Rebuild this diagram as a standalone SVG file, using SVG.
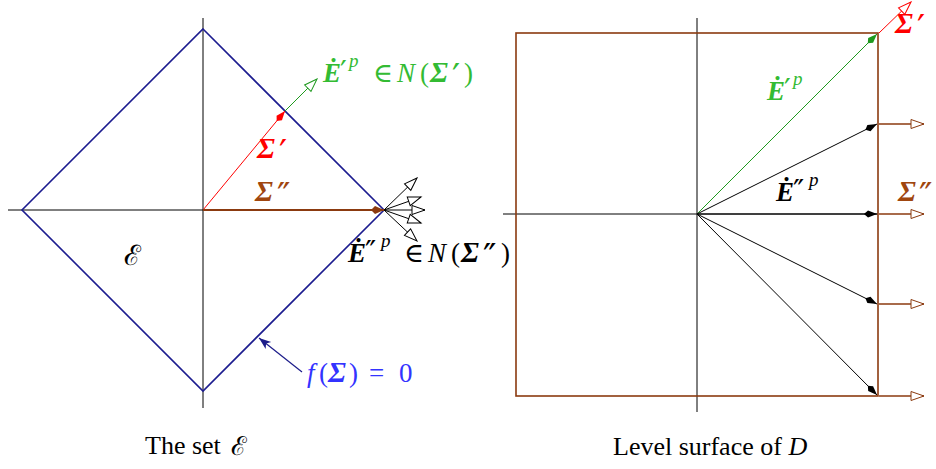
<svg xmlns="http://www.w3.org/2000/svg" width="936" height="469" viewBox="0 0 936 469">
<style>
.m{font-family:"Liberation Serif","DejaVu Serif",serif;font-size:27px}
.bi{font-weight:bold;font-style:italic}
.sg{font-weight:bold;font-style:italic;font-size:29px}
.it{font-style:italic}
.sup{font-size:19px}
.pr{font-family:"DejaVu Serif",serif;font-size:36px}
.spr{font-family:"DejaVu Serif",serif;font-size:30px}
.cap{font-family:"Liberation Serif","DejaVu Serif",serif;font-size:26px;fill:#000}
.ax{stroke:#000;stroke-width:1;fill:none}
.thin{fill:none;stroke-width:1}
</style>
<defs>
<marker id="kRed" viewBox="-15 -6 17 12" markerWidth="17" markerHeight="12" refX="0" refY="0" orient="auto" markerUnits="userSpaceOnUse"><path d="M0,0 L-9,-3.5 L-13,0 L-9,3.5 Z" fill="#ff0000"/></marker>
<marker id="kBrown" viewBox="-15 -6 17 12" markerWidth="17" markerHeight="12" refX="0" refY="0" orient="auto" markerUnits="userSpaceOnUse"><path d="M0,0 L-9,-4 L-13,0 L-9,4 Z" fill="#8b3a0f"/></marker>
<marker id="kGreen" viewBox="-15 -6 17 12" markerWidth="17" markerHeight="12" refX="0" refY="0" orient="auto" markerUnits="userSpaceOnUse"><path d="M0,0 L-9,-3.5 L-13,0 L-9,3.5 Z" fill="#1f9a1f"/></marker>
<marker id="kBlack" viewBox="-15 -6 17 12" markerWidth="17" markerHeight="12" refX="0" refY="0" orient="auto" markerUnits="userSpaceOnUse"><path d="M0,0 L-9,-3.5 L-13,0 L-9,3.5 Z" fill="#000"/></marker>
<marker id="kNavy" viewBox="-15 -6 17 12" markerWidth="17" markerHeight="12" refX="0" refY="0" orient="auto" markerUnits="userSpaceOnUse"><path d="M0,0 L-12,-4.5 L-9,0 L-12,4.5 Z" fill="#1c1c8a"/></marker>
<marker id="oGreen" viewBox="-16 -7 18 14" markerWidth="18" markerHeight="14" refX="0" refY="0" orient="auto" markerUnits="userSpaceOnUse"><path d="M0,0 L-13,-4.5 L-13,4.5 Z" fill="#fff" stroke="#1f9a1f" stroke-width="1"/></marker>
<marker id="oBlack" viewBox="-16 -7 18 14" markerWidth="18" markerHeight="14" refX="0" refY="0" orient="auto" markerUnits="userSpaceOnUse"><path d="M0,0 L-13,-4.5 L-13,4.5 Z" fill="#fff" stroke="#000" stroke-width="1"/></marker>
<marker id="oRed" viewBox="-16 -7 18 14" markerWidth="18" markerHeight="14" refX="0" refY="0" orient="auto" markerUnits="userSpaceOnUse"><path d="M0,0 L-13,-4.5 L-13,4.5 Z" fill="#fff" stroke="#ff0000" stroke-width="1"/></marker>
<marker id="oBrown" viewBox="-16 -7 18 14" markerWidth="18" markerHeight="14" refX="0" refY="0" orient="auto" markerUnits="userSpaceOnUse"><path d="M0,0 L-13,-4.5 L-13,4.5 Z" fill="#fff" stroke="#8b3a0f" stroke-width="1"/></marker>
</defs>
<rect width="936" height="469" fill="#fff"/>

<g id="left-axes">
<line class="ax" x1="8" y1="210" x2="384" y2="210"/>
<line class="ax" x1="203" y1="18" x2="203" y2="408"/>
</g>
<g id="diamond">
<path d="M203,29 L384,210 L203,391 L22,210 Z" fill="none" stroke="#1c1c8f" stroke-width="1.6"/>
</g>

<g id="right-axes">
<line class="ax" x1="503" y1="214" x2="878" y2="214"/>
<line class="ax" x1="697" y1="18" x2="697" y2="412"/>
</g>
<g id="level-surface">
<rect x="516" y="33" width="362" height="363" fill="none" stroke="#8b3a0f" stroke-width="1.6"/>
</g>

<g id="connectors">
<line x1="203" y1="210" x2="285" y2="111" stroke="#ff0000" class="thin" marker-end="url(#kRed)"/>
<line x1="285" y1="111" x2="317" y2="79" stroke="#1f9a1f" class="thin" marker-end="url(#oGreen)"/>
<line x1="203" y1="210" x2="384" y2="210" stroke="#8b3a0f" stroke-width="2.2" fill="none" marker-end="url(#kBrown)"/>
<line x1="384" y1="210" x2="417" y2="178" stroke="#000" class="thin" marker-end="url(#oBlack)"/>
<line x1="384" y1="210" x2="421" y2="197" stroke="#000" class="thin" marker-end="url(#oBlack)"/>
<line x1="384" y1="210" x2="425" y2="210" stroke="#000" class="thin" marker-end="url(#oBlack)"/>
<line x1="384" y1="210" x2="421" y2="223" stroke="#000" class="thin" marker-end="url(#oBlack)"/>
<line x1="384" y1="210" x2="417" y2="241" stroke="#000" class="thin" marker-end="url(#oBlack)"/>
<line x1="302" y1="372" x2="259" y2="338" stroke="#1c1c8a" stroke-width="1.2" fill="none" marker-end="url(#kNavy)"/>

<line x1="697" y1="214" x2="877" y2="34" stroke="#1f9a1f" class="thin" marker-end="url(#kGreen)"/>
<line x1="879" y1="33" x2="911" y2="2" stroke="#ff0000" class="thin" marker-end="url(#oRed)"/>
<line x1="697" y1="214" x2="877" y2="124" stroke="#000" class="thin" marker-end="url(#kBlack)"/>
<line x1="697" y1="214" x2="877" y2="214" stroke="#000" class="thin" marker-end="url(#kBlack)"/>
<line x1="697" y1="214" x2="877" y2="304" stroke="#000" class="thin" marker-end="url(#kBlack)"/>
<line x1="697" y1="214" x2="877" y2="395" stroke="#000" class="thin" marker-end="url(#kBlack)"/>
<line x1="879" y1="124" x2="924" y2="124" stroke="#8b3a0f" stroke-width="1.4" fill="none" marker-end="url(#oBrown)"/>
<line x1="879" y1="214" x2="924" y2="214" stroke="#8b3a0f" stroke-width="1.4" fill="none" marker-end="url(#oBrown)"/>
<line x1="879" y1="304" x2="924" y2="304" stroke="#8b3a0f" stroke-width="1.4" fill="none" marker-end="url(#oBrown)"/>
<line x1="879" y1="396" x2="924" y2="396" stroke="#8b3a0f" stroke-width="1.4" fill="none" marker-end="url(#oBrown)"/>
</g>

<g id="labels">
<text class="m" fill="#33bb33"><tspan class="bi" x="323" y="82">Ė</tspan><tspan class="spr" x="340" y="82">′</tspan><tspan class="sup it" x="349" y="67">p</tspan><tspan x="373" y="82">∈</tspan><tspan class="it" x="397" y="82">N</tspan><tspan x="420" y="82">(</tspan><tspan class="sg" x="430" y="82">Σ</tspan><tspan class="pr" x="452" y="89">′</tspan><tspan x="464" y="82">)</tspan></text>

<text class="m" fill="#ff0000"><tspan class="sg" x="257" y="158">Σ</tspan><tspan class="pr" x="279" y="165">′</tspan></text>
<text class="m" fill="#a0460f"><tspan class="sg" x="255" y="201">Σ</tspan><tspan class="pr" x="277" y="208">″</tspan></text>

<text class="m" fill="#000"><tspan class="bi" x="348" y="262">Ė</tspan><tspan class="spr" x="365" y="262">″</tspan><tspan class="sup it" x="381" y="247">p</tspan><tspan x="404" y="262">∈</tspan><tspan class="it" x="428" y="262">N</tspan><tspan x="451" y="262">(</tspan><tspan class="sg" x="461" y="262">Σ</tspan><tspan class="pr" x="483" y="269">″</tspan><tspan x="501" y="262">)</tspan></text>

<text x="124" y="265" font-family="DejaVu Serif,serif" font-size="28" fill="#000">ℰ</text>

<text class="m" fill="#3333ff"><tspan class="it" x="307" y="382">f</tspan><tspan x="319" y="382">(</tspan><tspan class="sg" x="328" y="382">Σ</tspan><tspan x="349" y="382">)</tspan><tspan x="369" y="382">=</tspan><tspan x="399" y="382">0</tspan></text>

<text class="m" fill="#33bb33"><tspan class="bi" x="767" y="100">Ė</tspan><tspan class="spr" x="784" y="100">′</tspan><tspan class="sup it" x="793" y="85">p</tspan></text>
<text class="m" fill="#ff0000"><tspan class="sg" x="895" y="33">Σ</tspan><tspan class="pr" x="917" y="40">′</tspan></text>
<text class="m" fill="#000"><tspan class="bi" x="776" y="201">Ė</tspan><tspan class="spr" x="793" y="201">″</tspan><tspan class="sup it" x="809" y="186">p</tspan></text>
<text class="m" fill="#a0460f"><tspan class="sg" x="898" y="201">Σ</tspan><tspan class="pr" x="919" y="208">″</tspan></text>

<text class="cap" x="145" y="454">The set</text>
<text x="231" y="455" font-family="DejaVu Serif,serif" font-size="26" fill="#000">ℰ</text>
<text class="cap" x="613" y="455">Level surface of <tspan class="it">D</tspan></text>
</g>
</svg>
